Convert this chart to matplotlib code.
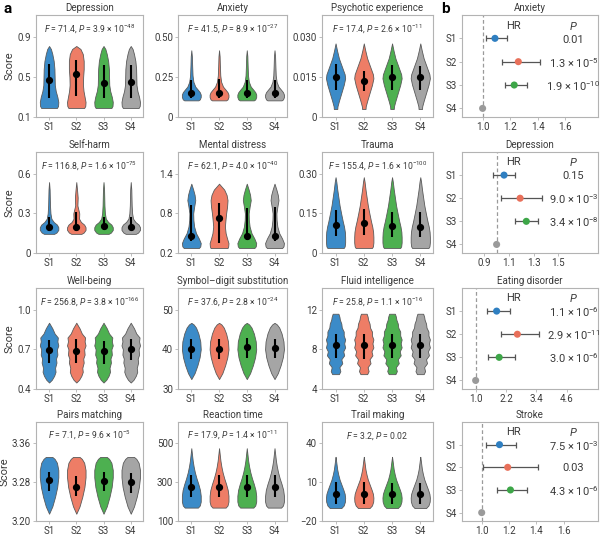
import numpy as np
import matplotlib.pyplot as plt

plt.rcParams['font.family'] = ['Roboto', 'DejaVu Sans']
plt.rcParams['mathtext.fontset'] = 'custom'
plt.rcParams['mathtext.rm'] = 'Roboto'
plt.rcParams['mathtext.it'] = 'Roboto:italic'

# ---------------- data: panel a (violins) ----------------
groups = ['S1', 'S2', 'S3', 'S4']
fill_colors = ['#3b8bc8', '#ee7d66', '#4db050', '#a5a5a5']
point_colors = ['#2f7fc1', '#e8705a', '#3da648', '#9a9a9a']

titles = ['Depression', 'Anxiety', 'Psychotic experience',
          'Self-harm', 'Mental distress', 'Trauma',
          'Well-being', 'Symbol\u2013digit substitution', 'Fluid intelligence',
          'Pairs matching', 'Reaction time', 'Trail making']

f_values = ['71.4', '41.5', '17.4', '116.8', '62.1', '155.4',
            '256.8', '37.6', '25.8', '7.1', '17.9', '3.2']
p_values = ['3.9 \u00d7 10$^{-48}$', '8.9 \u00d7 10$^{-27}$', '2.6 \u00d7 10$^{-11}$',
            '1.6 \u00d7 10$^{-75}$', '4.0 \u00d7 10$^{-40}$', '1.6 \u00d7 10$^{-100}$',
            '3.8 \u00d7 10$^{-166}$', '2.8 \u00d7 10$^{-24}$', '1.1 \u00d7 10$^{-16}$',
            '9.6 \u00d7 10$^{-5}$', '1.4 \u00d7 10$^{-11}$', '0.02']

yticks = [[0.1, 0.5, 0.9], [0, 0.25, 0.5], [0, 0.015, 0.03],
          [0, 0.3, 0.6], [0.2, 0.8, 1.4], [0, 0.15, 0.3],
          [0.4, 0.7, 1.0], [30, 40, 50], [4, 8, 12],
          [3.20, 3.28, 3.36], [100, 300, 500], [-20, 10, 40]]
ytick_labels = [['0.1', '0.5', '0.9'], ['0', '0.25', '0.50'], ['0', '0.015', '0.030'],
                ['0', '0.3', '0.6'], ['0.2', '0.8', '1.4'], ['0', '0.15', '0.30'],
                ['0.4', '0.7', '1.0'], ['30', '40', '50'], ['4', '8', '12'],
                ['3.20', '3.28', '3.36'], ['100', '300', '500'], ['\u221220', '10', '40']]

# violin outlines: score levels and relative half-widths
dep_y = [0.19, 0.21, 0.25, 0.30, 0.36, 0.42, 0.50, 0.58, 0.66, 0.73, 0.78, 0.81]
dep_w = [0.85, 0.97, 1.0, 0.9, 0.72, 0.62, 0.6, 0.58, 0.5, 0.35, 0.2, 0.0]
dep_w_s2 = [0.85, 0.97, 1.0, 0.9, 0.78, 0.72, 0.74, 0.8, 0.8, 0.7, 0.45, 0.0]

anx_y = [0.104, 0.11, 0.125, 0.14, 0.155, 0.17, 0.19, 0.22, 0.26, 0.32, 0.38, 0.417]
anx_w = [0.75, 0.9, 1.0, 1.0, 0.9, 0.7, 0.42, 0.22, 0.13, 0.09, 0.06, 0.0]

psy_y = [0.003, 0.004, 0.006, 0.009, 0.012, 0.0145, 0.016, 0.019, 0.022, 0.025, 0.0276]
psy_w = [0.18, 0.2, 0.35, 0.6, 0.85, 1.0, 0.95, 0.65, 0.35, 0.15, 0.0]

sh_y = [0.145, 0.155, 0.175, 0.195, 0.215, 0.235, 0.26, 0.30, 0.36, 0.42, 0.48, 0.537]
sh_w = [0.55, 0.8, 1.0, 1.0, 0.85, 0.5, 0.25, 0.15, 0.1, 0.08, 0.06, 0.0]
sh_w_s2 = [0.55, 0.8, 1.0, 1.0, 0.85, 0.5, 0.3, 0.32, 0.12, 0.15, 0.08, 0.0]

md_y = [0.275, 0.30, 0.35, 0.42, 0.50, 0.60, 0.70, 0.80, 0.90, 1.00, 1.08, 1.16, 1.25]
md_w = [0.8, 0.95, 1.0, 0.8, 0.5, 0.3, 0.22, 0.2, 0.3, 0.42, 0.35, 0.2, 0.0]
md_w_s2 = [0.9, 0.97, 1.0, 0.85, 0.7, 0.62, 0.68, 0.75, 0.85, 0.9, 0.8, 0.55, 0.0]

tr_y = [0.019, 0.025, 0.04, 0.06, 0.08, 0.10, 0.12, 0.15, 0.18, 0.21, 0.24, 0.27, 0.287]
tr_w = [0.85, 0.95, 1.0, 1.0, 0.97, 0.88, 0.75, 0.58, 0.42, 0.3, 0.18, 0.08, 0.0]

wb_y = [0.449, 0.47, 0.50, 0.53, 0.56, 0.60, 0.63, 0.66, 0.70, 0.73, 0.76, 0.79, 0.82, 0.86, 0.902]
wb_w = [0.0, 0.3, 0.55, 0.7, 0.65, 0.8, 0.75, 0.9, 0.85, 1.0, 0.9, 0.95, 0.6, 0.35, 0.0]

sd_y = [32.5, 34, 36, 38, 40, 42, 44, 45.5, 46.3, 46.7]
sd_w = [0.0, 0.35, 0.65, 0.88, 1.0, 0.95, 0.75, 0.5, 0.25, 0.0]

fi_y = [5.5, 5.8, 6.2, 6.6, 7.0, 7.4, 7.8, 8.2, 8.6, 9.0, 9.4, 9.8, 10.2, 10.6, 11.0, 11.3, 11.6]
fi_w = [0.35, 0.5, 0.4, 0.7, 0.6, 0.9, 0.8, 1.0, 0.9, 1.0, 0.85, 0.85, 0.65, 0.6, 0.45, 0.4, 0.3]

pm_y = [3.215, 3.23, 3.25, 3.27, 3.29, 3.305, 3.32, 3.328, 3.332]
pm_w = [0.0, 0.35, 0.65, 0.88, 1.0, 1.0, 0.85, 0.6, 0.35]

rt_y = [169, 180, 200, 230, 260, 290, 320, 350, 380, 410, 440, 475]
rt_w = [0.7, 0.9, 1.0, 1.0, 0.92, 0.75, 0.55, 0.38, 0.25, 0.15, 0.08, 0.0]

tm_y = [-10, -8, -5, -2, 1, 4, 8, 12, 16, 20, 24, 27.5, 29.6]
tm_w = [0.6, 0.85, 0.98, 1.0, 0.95, 0.82, 0.62, 0.42, 0.28, 0.17, 0.1, 0.04, 0.0]

shape_y = [dep_y, anx_y, psy_y, sh_y, md_y, tr_y, wb_y, sd_y, fi_y, pm_y, rt_y, tm_y]
shape_w = [[dep_w, dep_w_s2, dep_w, dep_w], [anx_w] * 4, [psy_w] * 4,
           [sh_w, sh_w_s2, sh_w, sh_w], [md_w, md_w_s2, md_w, md_w], [tr_w] * 4,
           [wb_w] * 4, [sd_w] * 4, [fi_w] * 4, [pm_w] * 4, [rt_w] * 4, [tm_w] * 4]

medians = [[0.47, 0.53, 0.44, 0.45], [0.15, 0.152, 0.15, 0.15], [0.015, 0.0135, 0.0149, 0.0149],
           [0.2, 0.2, 0.205, 0.2], [0.465, 0.725, 0.46, 0.46], [0.107, 0.115, 0.104, 0.1],
           [0.695, 0.69, 0.685, 0.70], [40.2, 40.2, 40.5, 40.3], [8.4, 8.45, 8.4, 8.4],
           [3.284, 3.271, 3.283, 3.281], [275, 275, 275, 275], [1, 1, 0.5, 0.5]]
iqr_lo = [[0.29, 0.31, 0.29, 0.29], [0.12, 0.12, 0.12, 0.12], [0.0103, 0.0097, 0.0103, 0.0103],
          [0.17, 0.17, 0.175, 0.175], [0.38, 0.35, 0.39, 0.38], [0.065, 0.07, 0.062, 0.06],
          [0.60, 0.60, 0.59, 0.62], [37.6, 37.6, 37.8, 37.8], [7.1, 7.0, 7.1, 7.1],
          [3.262, 3.252, 3.262, 3.258], [222, 222, 222, 222], [-7, -7, -7, -7]]
iqr_hi = [[0.63, 0.67, 0.62, 0.62], [0.23, 0.24, 0.23, 0.23], [0.0197, 0.0173, 0.0195, 0.0193],
          [0.27, 0.31, 0.27, 0.27], [0.93, 0.95, 0.88, 0.9], [0.162, 0.168, 0.157, 0.155],
          [0.77, 0.775, 0.765, 0.775], [42.7, 42.5, 42.8, 42.7], [9.6, 9.6, 9.6, 9.6],
          [3.301, 3.292, 3.301, 3.299], [335, 338, 338, 335], [10, 10, 9.5, 9.5]]

# ---------------- data: panel b (hazard ratios) ----------------
hr_titles = ['Anxiety', 'Depression', 'Eating disorder', 'Stroke']
hr_est = [[1.09, 1.26, 1.23, 1.0], [1.06, 1.19, 1.24, 1.0],
          [1.83, 2.65, 1.93, 1.0], [1.13, 1.19, 1.21, 1.0]]
hr_lo = [[1.025, 1.14, 1.16], [0.973, 1.035, 1.148], [1.44, 1.99, 1.49], [1.03, 1.01, 1.11]]
hr_hi = [[1.18, 1.42, 1.32], [1.148, 1.37, 1.337], [2.36, 3.52, 2.57], [1.25, 1.41, 1.33]]
hr_p = [['0.01', '1.3 \u00d7 10$^{-5}$', '1.9 \u00d7 10$^{-10}$'],
        ['0.15', '9.0 \u00d7 10$^{-3}$', '3.4 \u00d7 10$^{-8}$'],
        ['1.1 \u00d7 10$^{-6}$', '2.9 \u00d7 10$^{-11}$', '3.0 \u00d7 10$^{-6}$'],
        ['7.5 \u00d7 10$^{-3}$', '0.03', '4.3 \u00d7 10$^{-6}$']]
hr_xticks = [[1.0, 1.2, 1.4, 1.6], [0.9, 1.1, 1.3, 1.5], [1.0, 2.2, 3.4, 4.6], [1.0, 1.2, 1.4, 1.6]]
hr_xlim = [(0.85, 1.84), (0.72, 1.82), (0.46, 5.84), (0.856, 1.85)]

# ---------------- layout ----------------
W, H = 600, 536
fig = plt.figure(figsize=(W / 100, H / 100), dpi=100)

col_x = [(36, 143), (178, 287), (322, 433)]
row_y = [(15, 117), (152, 253), (288, 389), (422, 521)]
forest_x = (462, 598)

spine_col = '#b3b3b3'
text_col = '#3a3a3a'


def px_axes(x0, x1, y0, y1):
    return fig.add_axes([x0 / W, 1 - y1 / H, (x1 - x0) / W, (y1 - y0) / H])


def style(ax):
    for s in ax.spines.values():
        s.set_color(spine_col)
        s.set_linewidth(0.8)
    ax.tick_params(colors=spine_col, labelcolor=text_col, labelsize=7,
                   length=2, width=0.6, pad=1.5)


for p in range(12):
    r, c = divmod(p, 3)
    ax = px_axes(*col_x[c], *row_y[r])
    style(ax)
    stats = []
    for g in range(4):
        stats.append({'coords': np.array(shape_y[p]), 'vals': np.array(shape_w[p][g]),
                      'mean': medians[p][g], 'median': medians[p][g],
                      'min': shape_y[p][0], 'max': shape_y[p][-1]})
    parts = ax.violin(stats, positions=[1, 2, 3, 4], widths=0.68,
                      showmeans=False, showextrema=False, showmedians=False)
    for body, col in zip(parts['bodies'], fill_colors):
        body.set_facecolor(col)
        body.set_edgecolor('#5a5a5a')
        body.set_linewidth(0.6)
        body.set_alpha(1)
    ax.vlines([1, 2, 3, 4], iqr_lo[p], iqr_hi[p], color='black', lw=1.5, zorder=3)
    ax.plot([1, 2, 3, 4], medians[p], 'o', color='black', ms=4.2, zorder=4)

    t = yticks[p]
    step = t[1] - t[0]
    ax.set_ylim(t[0], t[0] + 2.55 * step)
    ax.set_yticks(t)
    ax.set_yticklabels(ytick_labels[p])
    ax.set_xlim(0.52, 4.45)
    ax.set_xticks([1, 2, 3, 4])
    ax.set_xticklabels(groups)
    ax.set_title(titles[p], fontsize=7, color=text_col, pad=3)
    ax.text(0.5, 0.86, r'$\mathit{F}$ = ' + f_values[p] + r', $\mathit{P}$ = ' + p_values[p],
            transform=ax.transAxes, ha='center', va='center', fontsize=6.2, color=text_col)
    if c == 0:
        ax.set_ylabel('Score', fontsize=8, color=text_col, labelpad=2)

for k in range(4):
    ax = px_axes(*forest_x, *row_y[k])
    style(ax)
    ypos = np.arange(4)
    est = np.array(hr_est[k])
    ax.axvline(1.0, color='#9a9a9a', lw=0.9, ls=(0, (3, 2)), zorder=1)
    ax.errorbar(est[:3], ypos[:3], xerr=[est[:3] - np.array(hr_lo[k]), np.array(hr_hi[k]) - est[:3]],
                fmt='none', ecolor='#555555', elinewidth=0.9, capsize=2.3, capthick=0.9, zorder=2)
    ax.scatter(est, ypos, c=point_colors, s=26, zorder=3, linewidths=0)
    ax.set_ylim(3.37, -1.0)
    ax.set_yticks(ypos)
    ax.set_yticklabels(groups)
    ax.set_xlim(*hr_xlim[k])
    ax.set_xticks(hr_xticks[k])
    ax.set_xticklabels([f'{v:.1f}' for v in hr_xticks[k]])
    ax.set_title(hr_titles[k], fontsize=7, color=text_col, pad=3)
    tr = ax.get_yaxis_transform()
    ax.text(0.375, -0.55, 'HR', transform=tr, ha='center', va='center', fontsize=8, color=text_col)
    ax.text(0.82, -0.55, r'$\mathit{P}$', transform=tr, ha='center', va='center', fontsize=8, color=text_col)
    for i in range(3):
        ax.text(0.82, i + 0.05, hr_p[k][i], transform=tr, ha='center', va='center',
                fontsize=8, color=text_col)

fig.text(4 / W, 1 - 9 / H, 'a', fontsize=11, fontweight='bold', va='center', ha='left')
fig.text(441 / W, 1 - 9 / H, 'b', fontsize=11, fontweight='bold', va='center', ha='left')

fig.savefig('out.png', dpi=100)
